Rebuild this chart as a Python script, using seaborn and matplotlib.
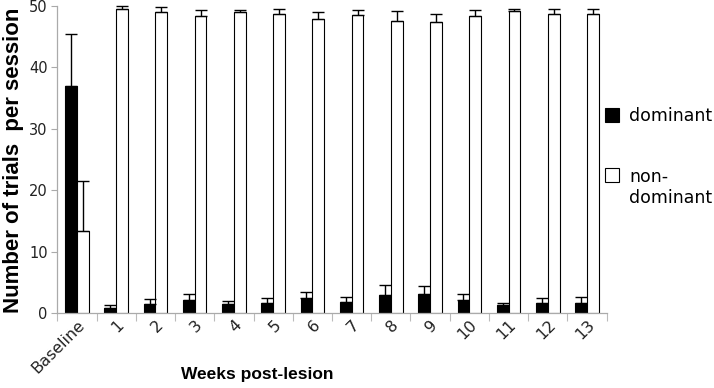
import matplotlib
matplotlib.use('Agg')
import matplotlib.pyplot as plt
import seaborn as sns
import pandas as pd
import numpy as np
from matplotlib.lines import Line2D
from matplotlib.ticker import FixedLocator

# --- Data ---
categories = ['Baseline', '1', '2', '3', '4', '5', '6', '7', '8', '9', '10', '11', '12', '13']
dominant = [37.0, 0.9, 1.5, 2.1, 1.5, 1.7, 2.5, 1.9, 3.0, 3.1, 2.1, 1.4, 1.7, 1.7]
dominant_err = [8.4, 0.45, 0.8, 1.0, 0.45, 0.8, 1.0, 0.8, 1.6, 1.4, 1.0, 0.3, 0.8, 1.0]
nondominant = [13.4, 49.5, 48.9, 48.3, 48.9, 48.7, 47.85, 48.45, 47.5, 47.3, 48.3, 49.1, 48.7, 48.7]
nondominant_err = [8.1, 0.4, 0.85, 1.0, 0.4, 0.8, 1.05, 0.85, 1.6, 1.4, 1.0, 0.4, 0.8, 0.8]
groups = ['dominant', 'non-dominant']

df = pd.DataFrame({
    'week': categories * 2,
    'trials': dominant + nondominant,
    'group': [groups[0]] * len(categories) + [groups[1]] * len(categories),
})

sns.set_style('white')
plt.rcParams['font.family'] = ['DejaVu Sans']
plt.rcParams['text.color'] = 'black'
plt.rcParams['xtick.color'] = 'black'
plt.rcParams['ytick.color'] = 'black'

fig = plt.figure(figsize=(7.14, 3.88), dpi=100)
ax = fig.add_axes([57.3 / 714, 74.7 / 388, (606.7 - 57.3) / 714, (313.3 - 5.5) / 388])

sns.barplot(data=df, x='week', y='trials', hue='group', order=categories,
            palette={'dominant': 'black', 'non-dominant': 'white'},
            width=0.6, gap=0, errorbar=None, edgecolor='black', linewidth=0.8,
            legend=False, ax=ax)

# upward-only error bars placed on the drawn bars
n = len(categories)
bars = ax.patches
for k, (vals, errs) in enumerate([(dominant, dominant_err), (nondominant, nondominant_err)]):
    xs = [p.get_x() + p.get_width() / 2 for p in bars[k * n:(k + 1) * n]]
    ax.errorbar(xs, vals, yerr=[np.zeros(n), errs], fmt='none', ecolor='black',
                elinewidth=1.0, capsize=4.5, capthick=1.0, clip_on=False, zorder=3)

ax.set_xlim(-0.5, n - 0.5)
ax.set_ylim(0, 50)
ax.set_yticks([0, 10, 20, 30, 40, 50])
ax.tick_params(axis='y', labelsize=10.5, length=4, width=0.8, color='#aaaaaa',
               labelcolor='#222222', left=True, pad=3)
ax.xaxis.set_minor_locator(FixedLocator(np.arange(-0.5, n, 1.0)))
ax.tick_params(axis='x', which='major', length=0, pad=3, labelcolor='#222222')
ax.tick_params(axis='x', which='minor', length=6, width=0.8, color='#bbbbbb', bottom=True)
for lab in ax.get_xticklabels():
    lab.set_rotation(45)
    lab.set_ha('right')
    lab.set_rotation_mode('anchor')
    lab.set_fontsize(11.5)
ax.set_xlabel('')
ax.set_ylabel('')

sns.despine(ax=ax)
for side in ['left', 'bottom']:
    ax.spines[side].set_color('#aaaaaa')
    ax.spines[side].set_linewidth(0.9)

fig.text(14 / 714, 1 - 160 / 388, 'Number of trials  per session', rotation=90,
         ha='center', va='center', fontsize=16, fontweight='bold', color='black',
         family=['Liberation Sans'])
fig.text(257 / 714, 1 - 374 / 388, 'Weeks post-lesion', ha='center', va='center',
         fontsize=12.5, fontweight='bold', color='black', family=['Liberation Sans'])

handles = [Line2D([], [], marker='s', linestyle='none', markersize=9.5,
                  markerfacecolor='black', markeredgecolor='black', markeredgewidth=0.8),
           Line2D([], [], marker='s', linestyle='none', markersize=9.5,
                  markerfacecolor='white', markeredgecolor='black', markeredgewidth=0.8)]
leg = fig.legend(handles, ['dominant', 'non-\ndominant'], loc='upper left',
                 bbox_to_anchor=(603 / 714, 1 - 107 / 388), frameon=False, fontsize=12.5,
                 handlelength=1.0, handletextpad=0.5, labelspacing=2.5, borderpad=0,
                 borderaxespad=0)
# line the second square up with the first line of its two-line label
h2 = leg.legend_handles[1]
h2.set_ydata(np.asarray(h2.get_ydata()) + 10)

fig.savefig('out.png', dpi=100)
